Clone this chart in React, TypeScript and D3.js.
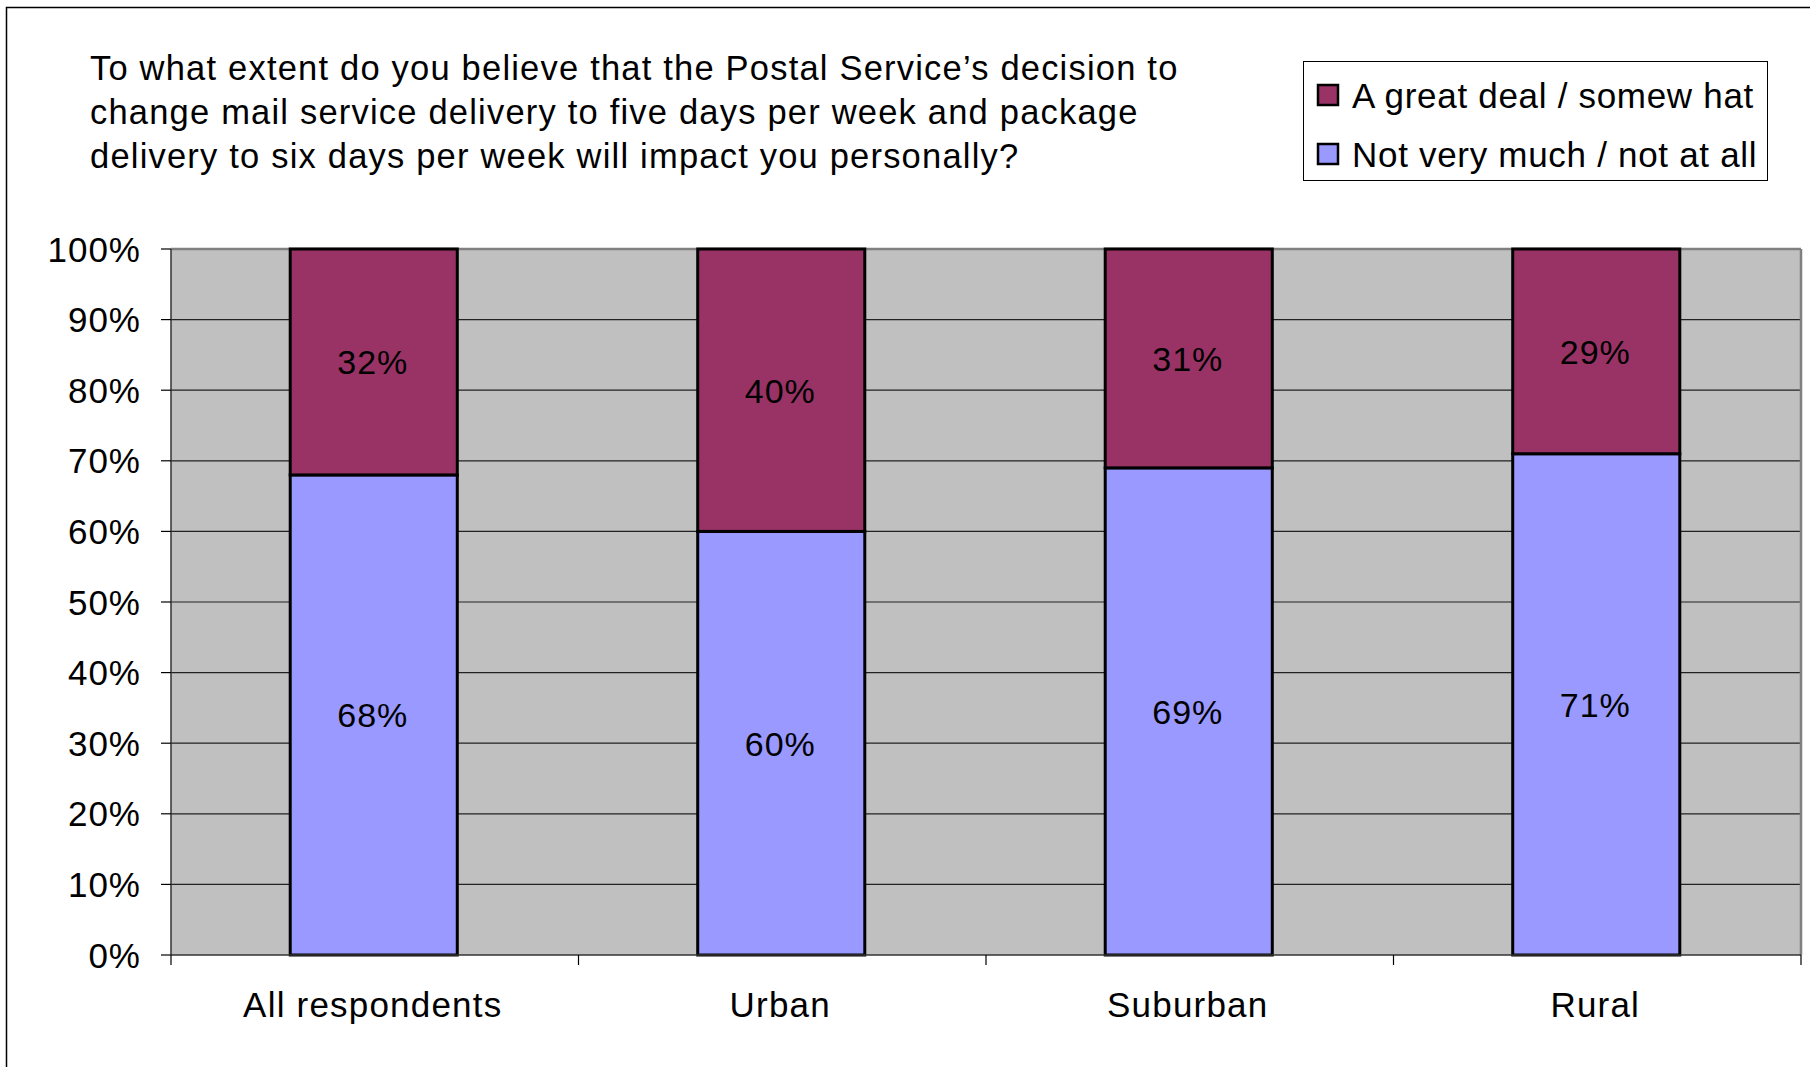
import * as d3 from 'd3'

const categories = ['All respondents', 'Urban', 'Suburban', 'Rural']
const notVeryMuch = [68, 60, 69, 71]
const greatDeal = [32, 40, 31, 29]
const yTicks = [0, 10, 20, 30, 40, 50, 60, 70, 80, 90, 100]
const titleLines = [
  'To what extent do you believe that the Postal Service\u2019s decision to',
  'change mail service delivery to five days per week and package',
  'delivery to six days per week will impact you personally?',
]
const seriesNames = ['Not very much / not at all', 'A great deal / somew hat']
const legendOrder = [1, 0]

const W = 1810
const H = 1067
const plot = { left: 171, right: 1801, top: 249, bottom: 955 }
const colors = ['#9999FF', '#993366']
const font = '"Liberation Sans", Arial, sans-serif'

export default function App() {
  const x = d3.scaleBand<string>().domain(categories).range([plot.left, plot.right]).padding(0)
  const y = d3.scaleLinear().domain([0, 100]).range([plot.bottom, plot.top])
  const barW = x.bandwidth() * 0.41

  const rows = categories.map((c, i) => ({ cat: c, s0: notVeryMuch[i], s1: greatDeal[i] }))
  const stacked = d3.stack<any>().keys(['s0', 's1'])(rows)

  return (
    <svg
      width={W}
      height={H}
      style={{ position: 'absolute', left: 0, top: 0, background: '#fff' }}
      fontFamily={font}
    >
      <rect x={6.5} y={7.5} width={W + 20} height={H + 20} fill="#fff" stroke="#000" strokeWidth={1.5} />

      {titleLines.map((t, i) => (
        <text key={i} x={90} y={80 + i * 44} fontSize={34.5} letterSpacing={1.2} fill="#000">
          {t}
        </text>
      ))}

      {/* legend */}
      <rect x={1303.5} y={61.5} width={464} height={119} fill="#fff" stroke="#000" strokeWidth={1} />
      {legendOrder.map((s, i) => {
        const cy = 95 + i * 59
        return (
          <g key={s}>
            <rect x={1318} y={cy - 10} width={20} height={20} fill={colors[s]} stroke="#000" strokeWidth={2.5} />
            <text x={1352} y={cy + 12.5} fontSize={35} letterSpacing={0.7} fill="#000">
              {seriesNames[s]}
            </text>
          </g>
        )
      })}

      {/* plot area */}
      <rect x={plot.left} y={plot.top} width={plot.right - plot.left} height={plot.bottom - plot.top} fill="#C0C0C0" />
      {yTicks.slice(1, -1).map((t) => (
        <line key={t} x1={plot.left} x2={plot.right} y1={y(t)} y2={y(t)} stroke="#222" strokeWidth={1.2} />
      ))}
      <line x1={plot.left} x2={plot.right} y1={plot.top} y2={plot.top} stroke="#808080" strokeWidth={2.5} />
      <line x1={plot.right} x2={plot.right} y1={plot.top} y2={plot.bottom} stroke="#808080" strokeWidth={2.5} />

      {/* bars */}
      {stacked.map((layer, si) =>
        layer.map((d, i) => {
          const cx = (x(categories[i]) as number) + x.bandwidth() / 2
          const y0 = y(d[0])
          const y1 = y(d[1])
          const val = d[1] - d[0]
          return (
            <g key={`${si}-${i}`}>
              <rect
                x={cx - barW / 2 - 1}
                y={y1}
                width={barW}
                height={y0 - y1}
                fill={colors[si]}
                stroke="#000"
                strokeWidth={3}
              />
              <text x={cx - 2} y={(y0 + y1) / 2 + 12.5} textAnchor="middle" fontSize={34} letterSpacing={1} fill="#000">
                {`${val}%`}
              </text>
            </g>
          )
        }),
      )}

      {/* axes */}
      <line x1={plot.left} x2={plot.left} y1={plot.top} y2={plot.bottom} stroke="#333" strokeWidth={1.5} />
      <line x1={plot.left} x2={plot.right} y1={plot.bottom} y2={plot.bottom} stroke="#333" strokeWidth={1.5} />
      {yTicks.map((t) => (
        <g key={t}>
          <line x1={plot.left - 10} x2={plot.left} y1={y(t)} y2={y(t)} stroke="#000" strokeWidth={1.2} />
          <text x={141} y={y(t) + 12.5} textAnchor="end" fontSize={35} letterSpacing={1} fill="#000">
            {`${t}%`}
          </text>
        </g>
      ))}
      {categories.map((c, i) => (
        <line
          key={`t${i}`}
          x1={x(c) as number}
          x2={x(c) as number}
          y1={plot.bottom}
          y2={plot.bottom + 10}
          stroke="#000"
          strokeWidth={1.2}
        />
      ))}
      <line x1={plot.right} x2={plot.right} y1={plot.bottom} y2={plot.bottom + 10} stroke="#000" strokeWidth={1.2} />
      {categories.map((c) => (
        <text
          key={c}
          x={(x(c) as number) + x.bandwidth() / 2 - 2}
          y={1017}
          textAnchor="middle"
          fontSize={35}
          letterSpacing={1.2}
          fill="#000"
        >
          {c}
        </text>
      ))}
    </svg>
  )
}
